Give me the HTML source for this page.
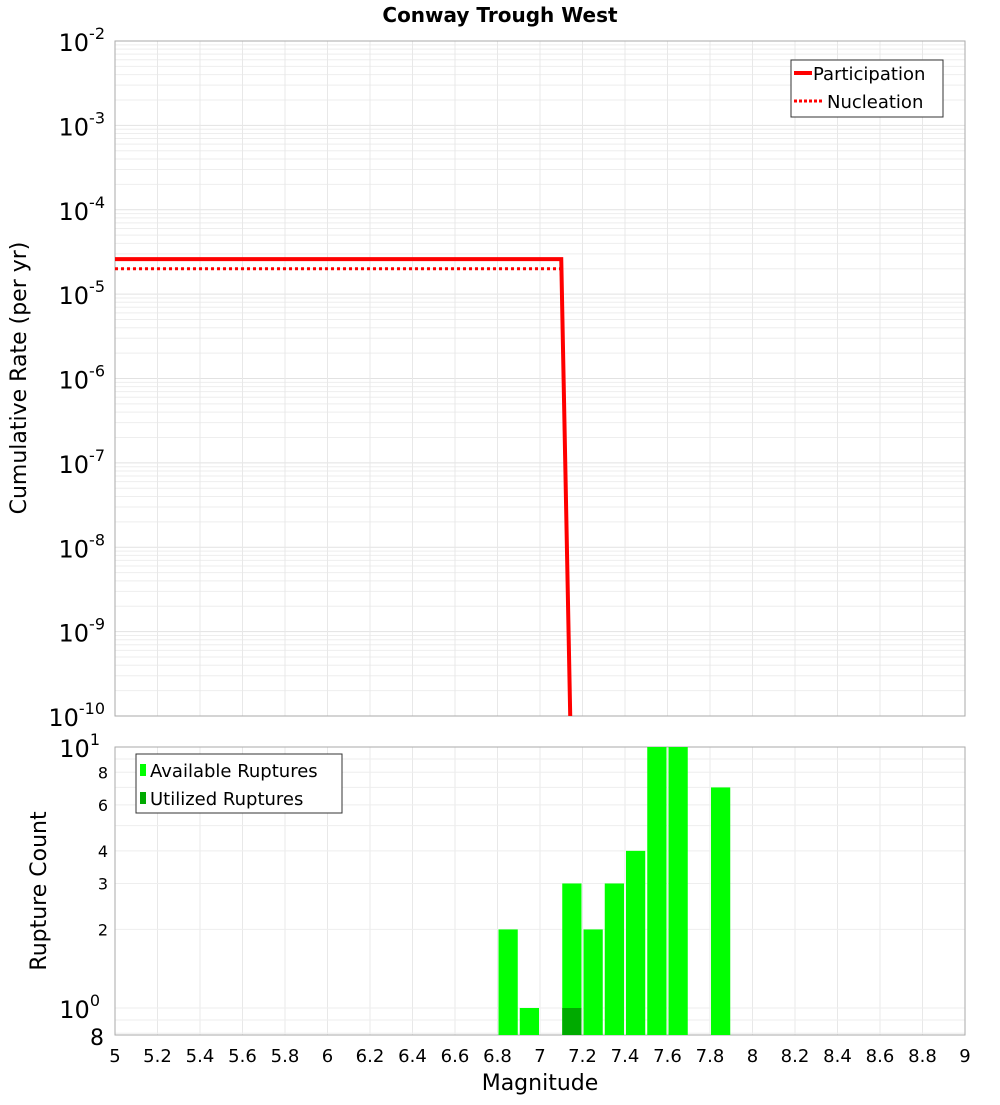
<!DOCTYPE html>
<html><head><meta charset="utf-8"><style>
body{margin:0;background:#fff;}
svg text{font-family:"DejaVu Sans","Liberation Sans",sans-serif;}
</style></head><body>
<svg id="c" width="1000" height="1100" xmlns="http://www.w3.org/2000/svg"></svg>
<script>
const partMags=[5.0,7.1,7.15];
const partRates=[2.6e-5,2.6e-5,1e-11];
const nuclMags=[5.0,7.1,7.15];
const nuclRates=[2.0e-5,2.0e-5,1e-11];
const binCenters=[6.85,6.95,7.15,7.25,7.35,7.45,7.55,7.65,7.85];
const availCounts=[2,1,3,2,3,4,10,10,7];
const utilCenters=[7.15];
const utilCounts=[1];
const xTicks=[5,5.2,5.4,5.6,5.8,6,6.2,6.4,6.6,6.8,7,7.2,7.4,7.6,7.8,8,8.2,8.4,8.6,8.8,9];
const topDecades=[-2,-3,-4,-5,-6,-7,-8,-9,-10];
const botMinorLabels=[8,6,4,3,2];

const NS="http://www.w3.org/2000/svg";
const svg=document.getElementById('c');
function el(t,a,p){const e=document.createElementNS(NS,t);for(const k in a)e.setAttribute(k,a[k]);(p||svg).appendChild(e);return e;}
const L=115,R=965,T1=41,B1=716,T2=747,B2=1035;
const X=m=>L+(m-5)/4*(R-L);
const Y1=v=>T1+(-2-Math.log10(v))/8*(B1-T1);
const dec2=(1008-747);
const Y2=v=>T2+(1-Math.log10(v))*dec2;

// clip paths
const defs=el('defs',{});
const c1=el('clipPath',{id:'clip1'},defs);el('rect',{x:L,y:T1,width:R-L,height:B1-T1},c1);
const c2=el('clipPath',{id:'clip2'},defs);el('rect',{x:L,y:T2,width:R-L,height:B2-T2},c2);

// title
let t=el('text',{x:500,y:22,'text-anchor':'middle','font-size':20,'font-weight':'bold'});t.textContent='Conway Trough West';


// top grid
const g1=el('g',{});
for(let d=-10;d<-2;d++){for(let k=1;k<10;k++){const v=k*Math.pow(10,d);const y=Y1(v);el('line',{x1:L,x2:R,y1:y,y2:y,stroke:k==1?'#e2e2e2':'#eeeeee','stroke-width':1},g1);}}
xTicks.forEach(m=>{const x=X(m);el('line',{x1:x,x2:x,y1:T1,y2:B1,stroke:'#e8e8e8'},g1);el('line',{x1:x,x2:x,y1:T2,y2:B2,stroke:'#e8e8e8'},g1);});
for(let d=-1;d<1;d++){for(let k=1;k<10;k++){const v=k*Math.pow(10,d);const y=Y2(v);if(y>=T2&&y<=B2)el('line',{x1:L,x2:R,y1:y,y2:y,stroke:'#eeeeee'},g1);}}

// top frame
el('rect',{x:L,y:T1,width:R-L,height:B1-T1,fill:'none',stroke:'#aaa'});
el('rect',{x:L,y:T2,width:R-L,height:B2-T2,fill:'none',stroke:'#aaa'});

// top y labels
topDecades.forEach(d=>{const y=Y1(Math.pow(10,d));const tx=el('text',{x:105,y:y+10,'text-anchor':'end','font-size':24});

const b=el('tspan',{},tx);b.textContent='10';const s=el('tspan',{'font-size':16,dy:-12},tx);s.textContent=String(d);});
t=el('text',{x:0,y:0,'text-anchor':'middle','font-size':22,transform:'translate(26,378) rotate(-90)'});t.textContent='Cumulative Rate (per yr)';


// lines
function pts(ms,vs){return ms.map((m,i)=>X(m)+','+Y1(vs[i])).join(' ');}
let pl=el('polyline',{points:pts(partMags,partRates),fill:'none',stroke:'#f00','stroke-width':4,'clip-path':'url(#clip1)'});

pl=el('polyline',{points:pts(nuclMags,nuclRates),fill:'none',stroke:'#f00','stroke-width':3,'stroke-dasharray':'3,3','clip-path':'url(#clip1)'});


// top legend
const lg=el('g',{});
el('rect',{x:791,y:60,width:152,height:57,fill:'#fff',stroke:'#333'},lg);
el('line',{x1:794,x2:812,y1:73,y2:73,stroke:'#f00','stroke-width':4},lg);
t=el('text',{x:813,y:80,'font-size':18},lg);t.textContent='Participation';
el('line',{x1:794,x2:822,y1:101,y2:101,stroke:'#f00','stroke-width':3,'stroke-dasharray':'3,2'},lg);
t=el('text',{x:827,y:108,'font-size':18},lg);t.textContent='Nucleation';

// bars
const bg=el('g',{'clip-path':'url(#clip2)'});
binCenters.forEach((m,i)=>{const x0=X(m-0.05)+1,x1=X(m+0.05)-1;const y=Y2(availCounts[i]);
const r=el('rect',{x:x0,y:y,width:x1-x0,height:B2-y,fill:'#00ff00'},bg);
});
utilCenters.forEach((m,i)=>{const x0=X(m-0.05)+1,x1=X(m+0.05)-1;const y=Y2(utilCounts[i]);
const r=el('rect',{x:x0,y:y,width:x1-x0,height:B2-y,fill:'#00aa00'},bg);
});

// bottom y labels
function big(y,exp){const tx=el('text',{x:100,y:y+10,'text-anchor':'end','font-size':24});
const b=el('tspan',{},tx);b.textContent='10';const s=el('tspan',{'font-size':16,dy:-12},tx);s.textContent=exp;}
big(Y2(10),'1');big(Y2(1),'0');
botMinorLabels.forEach(v=>{t=el('text',{x:108,y:Y2(v)+6,'text-anchor':'end','font-size':16});t.textContent=String(v);
});
t=el('text',{x:104,y:B2+10,'text-anchor':'end','font-size':22});t.textContent='8';
t=el('text',{x:0,y:0,'text-anchor':'middle','font-size':22,transform:'translate(46,891) rotate(-90)'});t.textContent='Rupture Count';


// bottom legend
const lg2=el('g',{});
el('rect',{x:136,y:754,width:206,height:59,fill:'#fff',stroke:'#333'},lg2);
el('rect',{x:140,y:764,width:6,height:12,fill:'#00ff00'},lg2);
t=el('text',{x:150,y:777,'font-size':18},lg2);t.textContent='Available Ruptures';
el('rect',{x:140,y:792,width:6,height:12,fill:'#00aa00'},lg2);
t=el('text',{x:150,y:805,'font-size':18},lg2);t.textContent='Utilized Ruptures';

// x ticks
xTicks.forEach(m=>{t=el('text',{x:X(m),y:1062,'text-anchor':'middle','font-size':18});t.textContent=String(m);
});
t=el('text',{x:540,y:1090,'text-anchor':'middle','font-size':22});t.textContent='Magnitude';

</script>
</body></html>
